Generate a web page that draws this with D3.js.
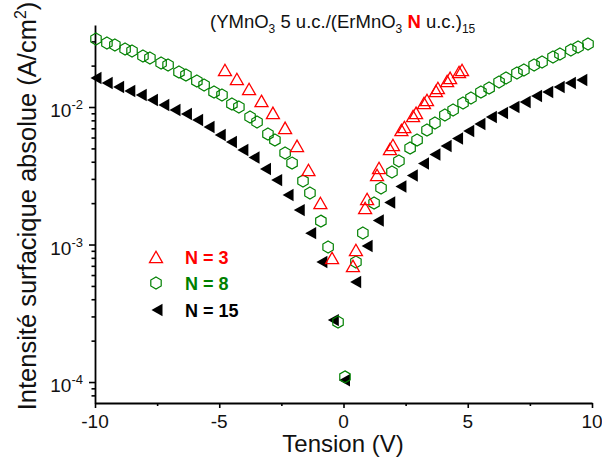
<!DOCTYPE html>
<html><head><meta charset="utf-8">
<script src="https://cdn.jsdelivr.net/npm/d3@7"></script>
<style>
html,body{margin:0;padding:0;background:#fff;}
svg{display:block;font-family:"Liberation Sans",Arial,sans-serif;}
</style></head>
<body><svg id="c" width="602" height="459"></svg>
<script>
// ---- data ----
const seriesNames = ["N = 3", "N = 8", "N = 15"];
const seriesColors = ["#ff0000", "#008000", "#000000"];

const n3V = [-4.77,-4.29,-3.80,-3.30,-2.84,-2.35,-1.87,-1.41,-0.93,-0.46,
             0.38,0.50,0.87,0.95,1.35,1.43,1.87,1.99,2.33,2.45,2.80,2.92,3.24,3.36,3.72,3.80,4.17,4.29,4.65,4.77];
const n3I = [1.858e-2,1.598e-2,1.352e-2,1.106e-2,9.05e-3,7.04e-3,5.21e-3,3.48e-3,2.003e-3,7.97e-4,
             6.98e-4,9.12e-4,1.842e-3,2.142e-3,3.20e-3,3.60e-3,4.95e-3,5.29e-3,6.80e-3,7.15e-3,8.60e-3,9.05e-3,1.069e-2,1.124e-2,1.307e-2,1.374e-2,1.545e-2,1.626e-2,1.796e-2,1.858e-2];

const n8V = [-9.96,-9.52,-9.20,-8.79,-8.51,-8.07,-7.79,-7.34,-7.06,-6.62,-6.34,-5.90,-5.61,-5.21,-4.89,-4.49,-4.21,-3.76,-3.48,-3.04,-2.76,-2.35,-2.07,-1.63,-1.35,-0.91,-0.62,-0.22,0.06,
             0.50,0.78,1.23,1.51,1.95,2.23,2.68,2.96,3.36,3.68,4.08,4.41,4.81,5.13,5.53,5.86,6.26,6.54,6.98,7.26,7.67,7.99,8.43,8.71,9.15,9.44,9.84];
const n8I = [3.122e-2,2.921e-2,2.824e-2,2.641e-2,2.555e-2,2.349e-2,2.271e-2,2.089e-2,2.020e-2,1.796e-2,1.708e-2,1.545e-2,1.445e-2,1.285e-2,1.223e-2,1.051e-2,1.0e-2,8.46e-3,7.78e-3,6.36e-3,5.75e-3,4.63e-3,3.91e-3,2.90e-3,2.37e-3,1.48e-3,9.59e-4,2.73e-4,1.09e-4,
             7.46e-4,1.213e-3,2.003e-3,2.576e-3,3.368e-3,4.05e-3,5.03e-3,5.75e-3,6.80e-3,7.65e-3,8.75e-3,9.51e-3,1.069e-2,1.163e-2,1.285e-2,1.374e-2,1.520e-2,1.626e-2,1.768e-2,1.858e-2,2.020e-2,2.125e-2,2.310e-2,2.429e-2,2.597e-2,2.731e-2,2.872e-2];

const n15V = [-10.0,-9.55,-9.09,-8.64,-8.18,-7.73,-7.27,-6.82,-6.36,-5.91,-5.45,-5.0,-4.55,-4.09,-3.64,-3.18,-2.73,-2.27,-1.82,-1.36,-0.91,-0.45,0,
              0.45,0.91,1.36,1.82,2.27,2.73,3.18,3.64,4.09,4.55,5.0,5.45,5.91,6.36,6.82,7.27,7.73,8.18,8.64,9.09,9.55];
const n15I = [1.626e-2,1.494e-2,1.398e-2,1.307e-2,1.223e-2,1.124e-2,1.034e-2,9.51e-3,8.90e-3,8.04e-3,7.15e-3,6.26e-3,5.56e-3,4.87e-3,4.29e-3,3.54e-3,2.94e-3,2.29e-3,1.78e-3,1.21e-3,7.46e-4,2.82e-4,1.03e-4,
              5.34e-4,9.75e-4,1.494e-3,2.02e-3,2.64e-3,3.18e-3,3.88e-3,4.51e-3,5.21e-3,5.90e-3,6.69e-3,7.52e-3,8.46e-3,9.05e-3,1.0e-2,1.087e-2,1.202e-2,1.285e-2,1.398e-2,1.494e-2,1.572e-2];

const xMajorTicks = [-10,-5,0,5,10];
const xMinorTicks = [-7.5,-2.5,2.5,7.5];
const yMajorTicks = [1e-4,1e-3,1e-2];
const yMajorLabels = ["-4","-3","-2"];

// ---- layout ----
const svg = d3.select("#c");
const x = d3.scaleLinear().domain([-10,10]).range([95,592]);
const y = d3.scaleLog().domain([7.04e-5,0.03948]).range([403,25]);

const yMinor = [];
[1e-5,1e-4,1e-3,1e-2].forEach(d=>{for(let m=2;m<=9;m++){const v=m*d; if(v>=7.04e-5&&v<=0.0395) yMinor.push(v);}});

// x axis
const gx = svg.append("g").attr("transform","translate(0,403)");
gx.call(d3.axisBottom(x).tickValues(xMajorTicks).tickSize(5).tickSizeOuter(0).tickFormat(""));
const gx2 = svg.append("g").attr("transform","translate(0,403)");
gx2.call(d3.axisBottom(x).tickValues(xMinorTicks).tickSize(3).tickSizeOuter(0).tickFormat(""));
gx2.select(".domain").remove();
[gx,gx2].forEach(g=>{g.selectAll("line").attr("stroke","#000").attr("stroke-width",1.6);
  g.selectAll(".domain").attr("stroke","#000").attr("stroke-width",1.8);});
svg.append("g").selectAll("text").data(xMajorTicks).join("text")
  .attr("x",d=>x(d)).attr("y",428).attr("text-anchor","middle")
  .attr("font-size",19).attr("fill","#111").text(d=>d);

// y axis
const gy = svg.append("g").attr("transform","translate(95,0)");
gy.call(d3.axisLeft(y).tickValues(yMajorTicks).tickSize(6).tickSizeOuter(0).tickFormat(""));
const gy2 = svg.append("g").attr("transform","translate(95,0)");
gy2.call(d3.axisLeft(y).tickValues(yMinor).tickSize(3.5).tickSizeOuter(0).tickFormat(""));
gy2.select(".domain").remove();
[gy,gy2].forEach(g=>{g.selectAll("line").attr("stroke","#000").attr("stroke-width",1.6);
  g.selectAll(".domain").attr("stroke","#000").attr("stroke-width",1.8);});
const yl = svg.append("g").selectAll("text").data(yMajorTicks).join("text")
  .attr("x",83).attr("y",d=>y(d)+10).attr("text-anchor","end")
  .attr("font-size",19).attr("fill","#111");
yl.append("tspan").text("10");
yl.append("tspan").attr("font-size",13).attr("dy",-8).text((d,i)=>yMajorLabels[i]);

// axis titles
svg.append("text").attr("x",343).attr("y",452).attr("text-anchor","middle")
  .attr("font-size",24).attr("fill","#111").text("Tension (V)");
const yt = svg.append("text").attr("transform","translate(36,206) rotate(-90)")
  .attr("text-anchor","middle").attr("font-size",25.5).attr("fill","#111");
yt.append("tspan").text("Intensité surfacique absolue (A/cm");
yt.append("tspan").attr("font-size",16).attr("dy",-10).text("2");
yt.append("tspan").attr("dy",10).text(")");

// title
const tt = svg.append("text").attr("x",210).attr("y",28).attr("font-size",18.5).attr("fill","#111");
tt.append("tspan").text("(YMnO");
tt.append("tspan").attr("font-size",12).attr("dy",5).text("3");
tt.append("tspan").attr("dy",-5).text(" 5 u.c./(ErMnO");
tt.append("tspan").attr("font-size",12).attr("dy",5).text("3");
tt.append("tspan").attr("dy",-5).text(" ");
tt.append("tspan").attr("font-weight","bold").attr("fill","#ff0000").text("N");
tt.append("tspan").text(" u.c.)");
tt.append("tspan").attr("font-size",12).attr("dy",5).text("15");

// markers
const triUp = "M0,-5.8L6.5,5.6L-6.5,5.6Z";
const hexR = 6;
const hex = d3.range(6).map(i=>{const a=Math.PI/3*i - Math.PI/2; return [hexR*Math.cos(a), hexR*Math.sin(a)];});
const hexPath = "M"+hex.map(p=>p[0].toFixed(2)+","+p[1].toFixed(2)).join("L")+"Z";
const triLeft = "M-4.5,0L6.5,-6.2L6.5,6.2Z";

const series = [
  {V:n3V, I:n3I, path:triUp, fill:"none", stroke:seriesColors[0], sw:1.3},
  {V:n8V, I:n8I, path:hexPath, fill:"none", stroke:seriesColors[1], sw:1.2},
  {V:n15V, I:n15I, path:triLeft, fill:seriesColors[2], stroke:"none", sw:0}
];
// draw N=15 first, then N=8, then N=3 on top
[2,1,0].forEach(si=>{
  const s = series[si];
  svg.append("g").selectAll("path").data(s.V.map((v,i)=>[v,s.I[i]])).join("path")
    .attr("d",s.path).attr("transform",d=>`translate(${x(d[0])},${y(d[1])})`)
    .attr("fill",s.fill).attr("stroke",s.stroke).attr("stroke-width",s.sw);
});

// legend
const legY = [257,283,310];
const lg = svg.append("g");
series.forEach((s,i)=>{
  lg.append("path").attr("d",s.path).attr("transform",`translate(156,${legY[i]})`)
    .attr("fill",s.fill).attr("stroke",s.stroke).attr("stroke-width",s.sw);
  lg.append("text").attr("x",185).attr("y",legY[i]+7).attr("font-size",18).attr("font-weight","bold")
    .attr("fill",seriesColors[i]).text(seriesNames[i]);
});
</script></body></html>
